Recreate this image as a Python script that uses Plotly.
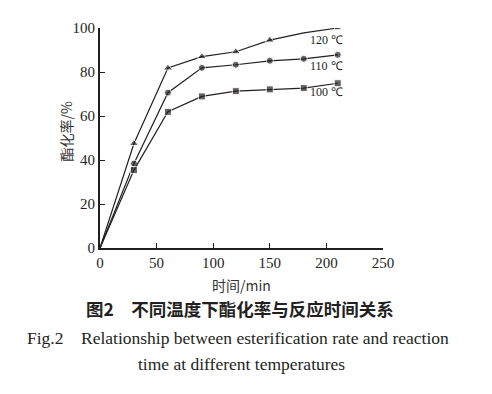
import plotly.graph_objects as go

time_min = [0, 30, 60, 90, 120, 150, 180, 210]
rate_120 = [0, 47.5, 81.8, 87.0, 89.2, 94.5, 97.8, 100.0]
rate_110 = [0, 38.4, 70.6, 81.9, 83.3, 85.1, 86.0, 87.8]
rate_100 = [0, 35.4, 61.9, 68.9, 71.3, 72.1, 72.7, 74.9]
series_labels = ["120 ℃", "110 ℃", "100 ℃"]
x_ticks = [0, 50, 100, 150, 200, 250]
y_ticks = [0, 20, 40, 60, 80, 100]

SERIF = "Liberation Serif, Times New Roman, serif"
CJK = "Noto Sans CJK SC"
INK = "#231f20"

fig = go.Figure()
sizes_120 = [0, 8, 8, 8, 8, 8, 0, 7]
sizes_other = [0, 7, 7, 7, 7, 7, 7, 7]
for ys, sym, sz in [(rate_120, "triangle-up", sizes_120),
                    (rate_110, "circle", sizes_other),
                    (rate_100, "square", sizes_other)]:
    fig.add_trace(go.Scatter(
        x=time_min, y=ys, mode="lines+markers",
        line=dict(color=INK, width=1.2),
        marker=dict(symbol=sym, size=sz, color=INK),
        cliponaxis=True, showlegend=False))

# series labels
label_y = [94.6, 82.7, 71.0]
for txt, yv in zip(series_labels, label_y):
    fig.add_annotation(x=200, y=yv, xref="x", yref="y", text=txt, showarrow=False,
                       font=dict(family=SERIF, size=12, color=INK),
                       xanchor="center", yanchor="middle")

PX0, PY0, PW, PH = 100, 248, 283.0, 223.0

def px(p):
    return (p - PX0) / PW

def py(p):
    return (PY0 - p) / PH

fig.add_annotation(x=px(241), y=py(285), xref="paper", yref="paper", text="时间/min",
                   showarrow=False, font=dict(family=CJK + ", " + SERIF, size=14, color="#333"),
                   xanchor="center", yanchor="middle")
fig.add_annotation(x=px(66), y=py(130), xref="paper", yref="paper", text="酯化率/%",
                   showarrow=False, textangle=-90,
                   font=dict(family=CJK, size=14, color="#333"),
                   xanchor="center", yanchor="middle")
fig.add_annotation(x=px(240), y=py(309), xref="paper", yref="paper",
                   text="<b>图2　不同温度下酯化率与反应时间关系</b>",
                   showarrow=False, font=dict(family=CJK, size=17.5, color=INK),
                   xanchor="center", yanchor="middle")
fig.add_annotation(x=px(238), y=py(339), xref="paper", yref="paper",
                   text="Fig.2    Relationship between esterification rate and reaction",
                   showarrow=False, font=dict(family=SERIF, size=17.5, color=INK),
                   xanchor="center", yanchor="middle")
fig.add_annotation(x=px(241), y=py(366), xref="paper", yref="paper",
                   text="time at different temperatures",
                   showarrow=False, font=dict(family=SERIF, size=17.5, color=INK),
                   xanchor="center", yanchor="middle")

# page body has an 8px margin, so offsets are reduced by 8
fig.update_layout(
    width=492, height=394,
    margin=dict(l=PX0 - 8, r=492 - 383 + 8, t=25 - 8, b=394 - PY0 + 8),
    paper_bgcolor="white", plot_bgcolor="white",
    xaxis=dict(range=[0, 250], tickvals=x_ticks, ticktext=[str(v) for v in x_ticks],
               ticks="inside", ticklen=5, tickwidth=1, tickcolor=INK,
               showline=True, linecolor=INK, linewidth=2, showgrid=False, zeroline=False,
               tickfont=dict(family=SERIF, size=15, color=INK)),
    yaxis=dict(range=[0, 100], tickvals=y_ticks, ticktext=[str(v) for v in y_ticks],
               ticks="inside", ticklen=5, tickwidth=1, tickcolor=INK,
               showline=True, linecolor=INK, linewidth=2, showgrid=False, zeroline=False,
               tickfont=dict(family=SERIF, size=15, color=INK)),
)

fig.write_html("out.html")
